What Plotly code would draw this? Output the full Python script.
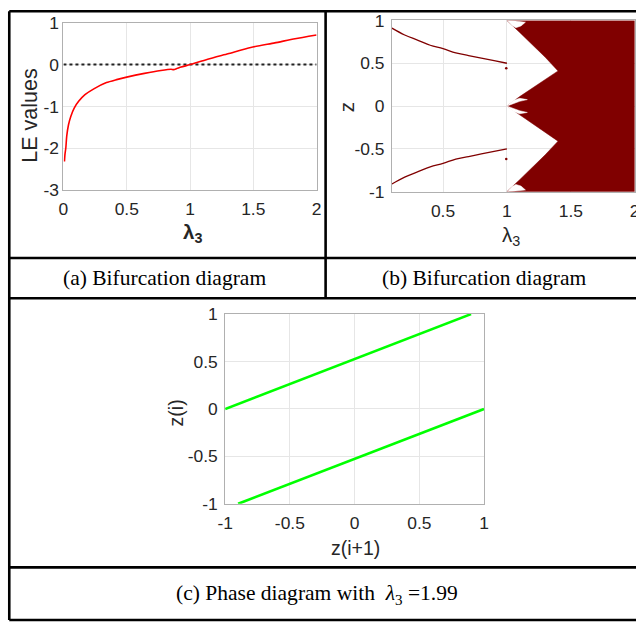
import plotly.graph_objects as go

# The picture is taken of a 652x639 page (8 px body margin) and shrunk to 636x623,
# so positions below are given in final-picture pixels and mapped back to the figure.
OFF = 8
SX, SY = 636 / 652, 623 / 639
FW, FH = 644, 631


def fx(X):
    return X / SX - OFF


def fy(Y):
    return Y / SY - OFF


def px(X):
    return fx(X) / FW


def py(Y):
    return 1 - fy(Y) / FH


def fs(size):
    return size / SX


# ---------------- Panel (a): Lyapunov exponent ----------------
le_lambda = [0.008, 0.012, 0.019, 0.026, 0.04, 0.058, 0.085, 0.12, 0.17, 0.24, 0.34, 0.42,
             0.5, 0.64, 0.77, 0.85, 0.87, 0.9, 0.93, 1.0, 1.14, 1.3, 1.48, 1.67, 1.83, 2.0]
le_values = [-2.32, -2.15, -1.99, -1.71, -1.44, -1.24, -1.04, -0.88, -0.72, -0.58, -0.43, -0.36,
             -0.30, -0.21, -0.14, -0.11, -0.12, -0.09, -0.06, 0.0, 0.13, 0.26, 0.41, 0.52, 0.62, 0.71]
zero_lambda = [0.0, 2.0]
zero_values = [0.0, 0.0]

# ---------------- Panel (b): bifurcation diagram ----------------
branch_lambda = [0.1, 0.2, 0.3, 0.4, 0.5, 0.6, 0.7, 0.8, 0.9, 1.0]
branch_upper = [0.91, 0.83, 0.77, 0.71, 0.67, 0.62, 0.59, 0.56, 0.53, 0.50]
branch_lower = [-0.91, -0.83, -0.77, -0.71, -0.67, -0.62, -0.59, -0.56, -0.53, -0.50]
stray_lambda = [0.995, 0.995]
stray_z = [0.44, -0.62]

chaos_lambda = [1.0, 2.0, 2.0, 1.0, 1.1, 1.2, 1.3, 1.4, 1.3, 1.2, 1.1, 1.0,
                1.1, 1.2, 1.3, 1.4, 1.3, 1.2, 1.1, 1.0]
chaos_z = [1.0, 1.0, -1.0, -1.0, -0.86, -0.72, -0.57, -0.41, -0.31, -0.21, -0.11, 0.0,
           0.11, 0.21, 0.31, 0.41, 0.57, 0.72, 0.86, 1.0]

eye_top_lambda = [1.003, 1.04, 1.07, 1.11, 1.145, 1.10, 1.05, 1.003]
eye_top_z = [1.0, 0.94, 0.915, 0.935, 0.98, 0.99, 0.995, 1.0]
eye_bot_lambda = [1.003, 1.04, 1.07, 1.11, 1.145, 1.10, 1.05, 1.003]
eye_bot_z = [-1.0, -0.94, -0.915, -0.935, -0.98, -0.99, -0.995, -1.0]
eye_mu_lambda = [1.0, 1.05, 1.10, 1.16, 1.10, 1.05, 1.0]
eye_mu_z = [0.0, 0.065, 0.09, 0.075, 0.055, 0.03, 0.0]
eye_ml_lambda = [1.0, 1.05, 1.10, 1.16, 1.10, 1.05, 1.0]
eye_ml_z = [0.0, -0.065, -0.09, -0.075, -0.055, -0.03, 0.0]

# ---------------- Panel (c): phase diagram ----------------
phase_upper_x = [-1.0, 0.9]
phase_upper_y = [0.0, 1.0]
phase_lower_x = [-0.9, 1.0]
phase_lower_y = [-1.0, 0.0]

DARKRED = "#800000"
GRID = "#e6e6e6"
BOX = "#b0b0b0"
TICK = "#262626"
SANS = "Liberation Sans, Arial, sans-serif"
SERIF = "Liberation Serif, Times New Roman, serif"

fig = go.Figure()

# (a)
fig.add_trace(go.Scatter(x=zero_lambda, y=zero_values, mode="lines",
                         line=dict(color="#222222", width=2, dash="dot"),
                         xaxis="x", yaxis="y", showlegend=False))
fig.add_trace(go.Scatter(x=le_lambda, y=le_values, mode="lines",
                         line=dict(color="red", width=1.6, shape="spline", smoothing=0.6),
                         xaxis="x", yaxis="y", showlegend=False))

# (b)
fig.add_trace(go.Scatter(x=chaos_lambda, y=chaos_z, mode="lines", fill="toself",
                         fillcolor=DARKRED, line=dict(color=DARKRED, width=0.5),
                         xaxis="x2", yaxis="y2", showlegend=False))
for lx, lz in [(eye_top_lambda, eye_top_z), (eye_bot_lambda, eye_bot_z),
               (eye_mu_lambda, eye_mu_z), (eye_ml_lambda, eye_ml_z)]:
    fig.add_trace(go.Scatter(x=lx, y=lz, mode="lines", fill="toself",
                             fillcolor="white", line=dict(color="white", width=0.5),
                             xaxis="x2", yaxis="y2", showlegend=False))
fig.add_trace(go.Scatter(x=branch_lambda, y=branch_upper, mode="lines",
                         line=dict(color=DARKRED, width=1.3, shape="spline"),
                         xaxis="x2", yaxis="y2", showlegend=False))
fig.add_trace(go.Scatter(x=branch_lambda, y=branch_lower, mode="lines",
                         line=dict(color=DARKRED, width=1.3, shape="spline"),
                         xaxis="x2", yaxis="y2", showlegend=False))
fig.add_trace(go.Scatter(x=stray_lambda, y=stray_z, mode="markers",
                         marker=dict(color=DARKRED, size=2.5),
                         xaxis="x2", yaxis="y2", showlegend=False))

# (c)
fig.add_trace(go.Scatter(x=phase_upper_x, y=phase_upper_y, mode="lines",
                         line=dict(color="#00ff00", width=2.6),
                         xaxis="x3", yaxis="y3", showlegend=False))
fig.add_trace(go.Scatter(x=phase_lower_x, y=phase_lower_y, mode="lines",
                         line=dict(color="#00ff00", width=2.6),
                         xaxis="x3", yaxis="y3", showlegend=False))


def ax(domain, rng, vals, texts, anchor, standoff):
    return dict(domain=domain, range=rng, tickmode="array", tickvals=vals, ticktext=texts,
                showgrid=True, gridcolor=GRID, gridwidth=1, showline=True, linecolor=BOX,
                linewidth=1, mirror=True, zeroline=False, ticks="", anchor=anchor,
                tickfont=dict(family=SANS, size=fs(17), color=TICK), fixedrange=True,
                ticklabelstandoff=standoff)


fig.update_layout(
    width=FW, height=FH, margin=dict(l=0, r=0, t=0, b=0),
    paper_bgcolor="white", plot_bgcolor="white", showlegend=False,
    xaxis=ax([px(63), px(315)], [0, 2], [0, 0.5, 1, 1.5, 2],
             ["0", "0.5", "1", "1.5", "2"], "y", 3),
    yaxis=ax([py(189), py(20.7)], [-3, 1], [-3, -2, -1, 0, 1],
             ["-3", "-2", "-1", "0", "1"], "x", 0),
    xaxis2=ax([px(390), px(631.7)], [0.1, 2], [0.5, 1, 1.5, 2],
              ["0.5", "1", "1.5", "2"], "y2", 3),
    yaxis2=ax([py(190.7), py(18.3)], [-1, 1], [-1, -0.5, 0, 0.5, 1],
              ["-1", "-0.5", "0", "0.5", "1"], "x2", 3),
    xaxis3=ax([px(224), px(481.7)], [-1, 1], [-1, -0.5, 0, 0.5, 1],
              ["-1", "-0.5", "0", "0.5", "1"], "y3", 3),
    yaxis3=ax([py(505), py(314)], [-1, 1], [-1, -0.5, 0, 0.5, 1],
              ["-1", "-0.5", "0", "0.5", "1"], "x3", 3),
)


def note(text, x, y, size, family=SANS, angle=0, xanchor="center", color=TICK):
    fig.add_annotation(text=text, x=px(x), y=py(y), xref="paper", yref="paper",
                       showarrow=False, textangle=angle, xanchor=xanchor, yanchor="middle",
                       font=dict(family=family, size=fs(size), color=color))


# axis titles
note("LE values", 30, 114, 21, angle=-90)
note("<b>λ<sub>3</sub></b>", 191, 232, 20)
note("z", 345, 106, 20, angle=-90)
note("λ<sub>3</sub>", 509, 235, 20)
note("z(i)", 175, 413, 19, angle=-90)
note("z(i+1)", 353.3, 550, 19)

# captions
note("(a) Bifurcation diagram", 163.5, 278, 21, family=SERIF, color="black")
note("(b) Bifurcation diagram", 482.5, 278, 21, family=SERIF, color="black")
note("(c) Phase diagram with  <i>λ</i><sub>3</sub> =1.99", 315, 596, 21,
     family=SERIF, color="black")

# table lines (figure pixels); the left and top borders sit at the figure edge
LW = 2.6
EDGE = LW / 2
seg = [
    (EDGE, EDGE, EDGE, fy(622)),
    (EDGE, EDGE, FW + 5, EDGE),
    (fx(324), EDGE, fx(324), fy(298)),
    (EDGE, fy(257.5), FW + 5, fy(257.5)),
    (EDGE, fy(298), FW + 5, fy(298)),
    (EDGE, fy(569), FW + 5, fy(569)),
    (EDGE, fy(622), FW + 5, fy(622)),
]
for x0, y0, x1, y1 in seg:
    fig.add_shape(type="line", xref="paper", yref="paper",
                  x0=x0 / FW, y0=1 - y0 / FH, x1=x1 / FW, y1=1 - y1 / FH,
                  line=dict(color="black", width=LW), layer="above")

fig.write_html("out.html")
